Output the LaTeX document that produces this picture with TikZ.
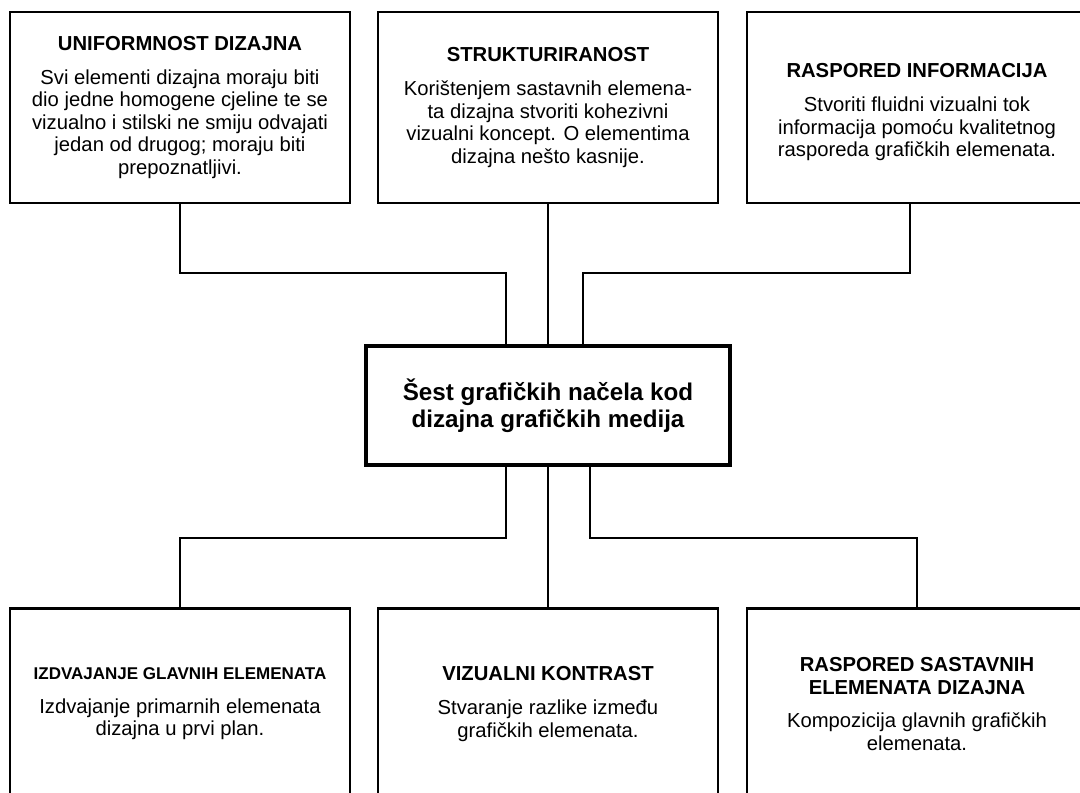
\documentclass[tikz,border=0pt]{standalone}
\usepackage{fontspec}
\setmainfont{Liberation Sans}
\usetikzlibrary{positioning}

\tikzset{
  box/.style={draw, line width=2pt, minimum width=8.5cm, minimum height=4.775cm,
    align=center, font=\fontsize{14.4pt}{16pt}\selectfont},
  hub/.style={draw, line width=3pt, minimum width=9.1cm, minimum height=2.975cm,
    align=center, font=\fontsize{17.2pt}{19.2pt}\selectfont\bfseries},
  conn/.style={draw, line width=1.4pt}
}

\begin{document}
\begin{tikzpicture}[x=0.025cm, y=-0.025cm]
\useasboundingbox (0,0) rectangle (1080,792);
\fill[white] (0,0) rectangle (1080,792);
\clip (0,0) rectangle (1080,792);

\node[hub] (sest) at (548,405.5) {\v{S}est grafi\v{c}kih na\v{c}ela kod\\ dizajna grafi\v{c}kih medija};

\node[box] (uni) at (180,107.5) {\textbf{UNIFORMNOST DIZAJNA}\\[8pt]
  Svi elementi dizajna moraju biti\\ dio jedne homogene cjeline te se\\
  vizualno i stilski ne smiju odvajati\\ jedan od drugog; moraju biti\\ prepoznatljivi.};
\node[box] (struk) at (548,107.5) {\textbf{STRUKTURIRANOST}\\[8pt]
  Korištenjem sastavnih elemena-\\ ta dizajna stvoriti kohezivni\\
  vizualni koncept. O elementima\\ dizajna nešto kasnije.};
\node[box] (rasp) at (917,107.5) {\rule{0pt}{17pt}\textbf{RASPORED INFORMACIJA}\\[8pt]
  Stvoriti fluidni vizualni tok\\ informacija pomoću kvalitetnog\\ rasporeda grafičkih elemenata.};

\node[box] (izd) at (180,704) {{\fontsize{12.1pt}{14pt}\selectfont\textbf{IZDVAJANJE GLAVNIH ELEMENATA}}\\[8pt]
  Izdvajanje primarnih elemenata\\ dizajna u prvi plan.};
\node[box] (viz) at (548,704) {\textbf{VIZUALNI KONTRAST}\\[8pt]
  Stvaranje razlike između\\ grafičkih elemenata.};
\node[box] (sast) at (917,704) {\textbf{RASPORED SASTAVNIH}\\ \textbf{ELEMENATA DIZAJNA}\\[8pt]
  Kompozicija glavnih grafičkih\\ elemenata.};

\coordinate (j1) at (506,273);
\coordinate (j2) at (583,273);
\coordinate (j3) at (506,538);
\coordinate (j4) at (590,538);

\path[conn] (uni.south) |- (j1) -- (j1 |- sest.north);
\path[conn] (struk.south) -- (sest.north);
\path[conn] ([xshift=-5pt]rasp.south) |- (j2) -- (j2 |- sest.north);

\path[conn] (sest.south -| j3) -- (j3) -| (izd.north);
\path[conn] (sest.south) -- (viz.north);
\path[conn] (sest.south -| j4) -- (j4) -| (sast.north);
\end{tikzpicture}
\end{document}
